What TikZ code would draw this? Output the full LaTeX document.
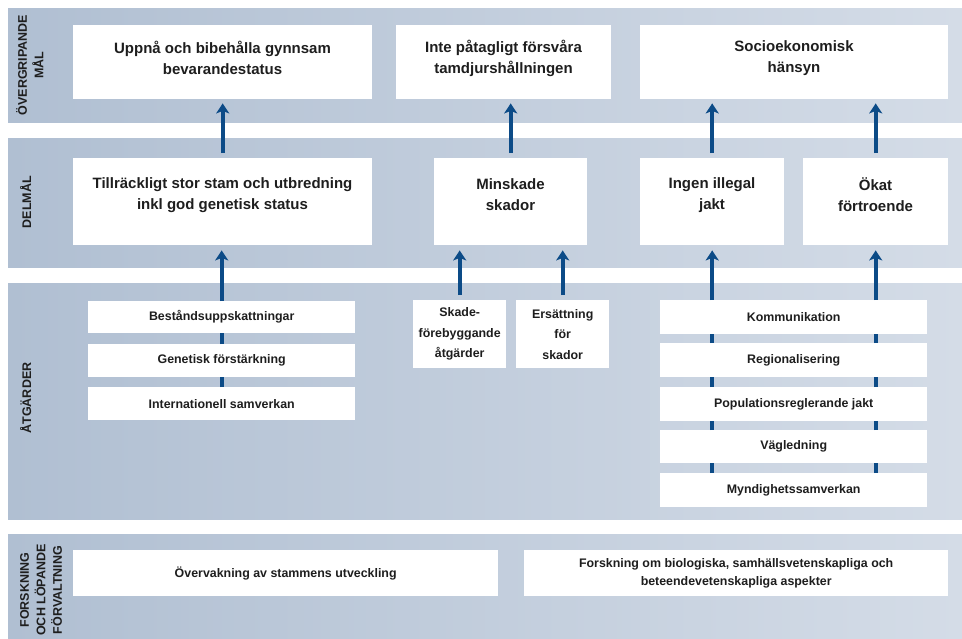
\documentclass[tikz,border=0pt]{standalone}
\usepackage{fontspec}
\setmainfont{Liberation Sans}
\usetikzlibrary{arrows.meta}
\definecolor{bandL}{RGB}{176,191,210}
\definecolor{bandR}{RGB}{212,220,231}
\definecolor{arrowblue}{RGB}{12,75,135}
\definecolor{txt}{RGB}{30,30,30}
\begin{document}
\begin{tikzpicture}[x=1pt,y=-1pt,
  box/.style={fill=white, draw=none, inner sep=0pt, anchor=north west, text=txt},
  big/.style={font=\fontsize{15}{21}\selectfont\bfseries, align=center, inner sep=0pt, text=txt},
  small/.style={font=\fontsize{12.4}{18}\selectfont\bfseries, align=center},
  tall/.style={font=\fontsize{12.4}{20.5}\selectfont\bfseries, align=center},
  lab/.style={font=\fontsize{12.5}{16.5}\selectfont\bfseries, align=center, rotate=90, inner sep=0pt, text=txt, anchor=north},
  arr/.style={draw=arrowblue, line width=3.6pt, -{Stealth[length=10pt,width=13pt,inset=2.5pt]}},
  seg/.style={draw=arrowblue, line width=3.6pt},
]
\useasboundingbox (0,0) rectangle (962,638);
\fill[white] (0,0) rectangle (962,638);
% bands
\shade[left color=bandL, right color=bandR] (8,8) rectangle (962,122);
\shade[left color=bandL, right color=bandR] (8,138) rectangle (962,267);
\shade[left color=bandL, right color=bandR] (8,283) rectangle (962,519);
\shade[left color=bandL, right color=bandR] (8,534) rectangle (962,638);
% labels
\node[lab] (l1) at (16,65) {ÖVERGRIPANDE\\MÅL};
\node[lab] (l2) at (20,202) {DELMÅL};
\node[lab] (l3) at (20,398) {ÅTGÄRDER};
\node[lab] (l4) at (20,590) {FORSKNING\\OCH LÖPANDE\\FÖRVALTNING};
% band 1
\node[box, minimum width=299pt, minimum height=74pt] (A) at (73,25) {};
\node[box, minimum width=215pt, minimum height=74pt] (B) at (396,25) {};
\node[box, minimum width=308pt, minimum height=74pt] (C) at (640,25) {};
\node[big] (tA) at (222.5,58) {Uppnå och bibehålla gynnsam\\bevarandestatus};
\node[big] (tB) at (503.5,58) {Inte påtagligt försvåra\\tamdjurshållningen};
\node[big] (tC) at (794,58) {Socioekonomisk\\hänsyn};
% band 2
\node[box, minimum width=299pt, minimum height=87pt] (D) at (73,158) {};
\node[box, minimum width=153pt, minimum height=87pt] (E) at (434,158) {};
\node[box, minimum width=144pt, minimum height=87pt] (F) at (640,158) {};
\node[box, minimum width=145pt, minimum height=87pt] (G) at (803,158) {};
\node[big] (tD) at (222.5,195) {Tillräckligt stor stam och utbredning\\inkl god genetisk status};
\node[big] (tE) at (510.5,195) {Minskade\\skador};
\node[big] (tF) at (712,195) {Ingen illegal\\jakt};
\node[big] (tG) at (875.5,195) {Ökat\\förtroende};
% band 3
\node[box, small, minimum width=267pt, minimum height=32pt] (L1) at (88,301) {Beståndsuppskattningar};
\node[box, small, minimum width=267pt, minimum height=33pt] (L2) at (88,344) {Genetisk förstärkning};
\node[box, small, minimum width=267pt, minimum height=33pt] (L3) at (88,387) {Internationell samverkan};
\node[box, tall, minimum width=93pt, minimum height=68pt] (S1) at (413,300) {Skade-\\förebyggande\\åtgärder};
\node[box, tall, minimum width=93pt, minimum height=68pt] (S2) at (516,300) {Ersättning\\för\\skador};
\node[box, small, minimum width=267pt, minimum height=34pt] (R1) at (660,300) {Kommunikation};
\node[box, small, minimum width=267pt, minimum height=34pt] (R2) at (660,343) {Regionalisering};
\node[box, small, minimum width=267pt, minimum height=34pt] (R3) at (660,387) {Populationsreglerande jakt};
\node[box, small, minimum width=267pt, minimum height=33pt] (R4) at (660,430) {Vägledning};
\node[box, small, minimum width=267pt, minimum height=34pt] (R5) at (660,473) {Myndighetssamverkan};
% band 4
\node[box, small, minimum width=425pt, minimum height=46pt] (M1) at (73,550) {Övervakning av stammens utveckling};
\node[box, small, minimum width=424pt, minimum height=46pt] (M2) at (524,550) {Forskning om biologiska, samhällsvetenskapliga och\\beteendevetenskapliga aspekter};
% arrows band 2 -> band 1
\draw[arr, shorten <=5pt, shorten >=4pt] (D.north) -- (A.south);
\draw[arr, shorten <=5pt, shorten >=4pt] (E.north) -- (E.north |- B.south);
\draw[arr, shorten <=5pt, shorten >=4pt] (F.north) -- (F.north |- C.south);
\draw[arr, shorten <=5pt, shorten >=4pt] (G.north) -- (G.north |- C.south);
% arrows band 3 -> band 2
\draw[arr, shorten >=5pt] (L1.north) -- (L1.north |- D.south);
\draw[seg] (L2.north) -- (L1.south);
\draw[seg] (L3.north) -- (L2.south);
\draw[arr, shorten <=5pt, shorten >=5pt] (S1.north) -- (S1.north |- E.south);
\draw[arr, shorten <=5pt, shorten >=5pt] (S2.north) -- (S2.north |- E.south);
\draw[arr, shorten >=5pt] (R1.north -| F.south) -- (F.south);
\draw[arr, shorten >=5pt] (R1.north -| G.south) -- (G.south);
\draw[seg] (R2.north -| F.south) -- (R1.south -| F.south);
\draw[seg] (R3.north -| F.south) -- (R2.south -| F.south);
\draw[seg] (R4.north -| F.south) -- (R3.south -| F.south);
\draw[seg] (R5.north -| F.south) -- (R4.south -| F.south);
\draw[seg] (R2.north -| G.south) -- (R1.south -| G.south);
\draw[seg] (R3.north -| G.south) -- (R2.south -| G.south);
\draw[seg] (R4.north -| G.south) -- (R3.south -| G.south);
\draw[seg] (R5.north -| G.south) -- (R4.south -| G.south);
\end{tikzpicture}
\end{document}
